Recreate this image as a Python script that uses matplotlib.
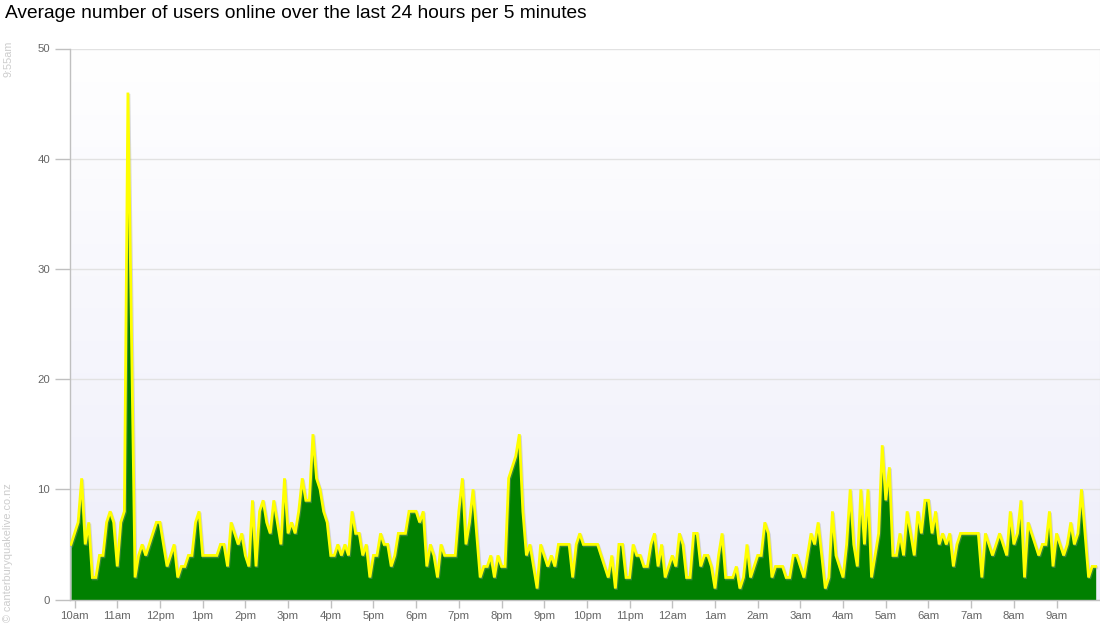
import matplotlib
matplotlib.use("Agg")
import matplotlib.pyplot as plt
import numpy as np
from matplotlib.colors import LinearSegmentedColormap

# ---- data (5-minute averages, 9:55am -> 9:55am) ----
users_online = [
    # 9:55am - 12:45pm
    5, 6, 7, 11, 5, 7, 2, 2, 4, 4, 7, 8, 7, 3, 7, 8, 46, 24, 2, 4,
    5, 4, 5, 6, 7, 7, 5, 3, 4, 5, 2, 3, 3, 4, 4,
    # 12:50pm - 3:45pm
    7, 8, 4, 4, 4, 4, 4, 5, 5, 3, 7, 6, 5, 6, 4, 3, 9, 3, 8, 9,
    7, 6, 9, 7, 5, 11, 6, 7, 6, 8, 11, 9, 9, 15, 11, 10,
    # 3:50pm - 6:50pm
    8, 7, 4, 4, 5, 4, 5, 4, 8, 6, 6, 4, 5, 2, 4, 4, 6, 5, 5, 3,
    4, 6, 6, 6, 8, 8, 8, 7, 8, 3, 5, 4, 2, 5, 4, 4, 4,
    # 6:55pm - 9:55pm
    4, 8, 11, 5, 7, 10, 6, 2, 3, 3, 4, 2, 4, 3, 3, 11, 12, 13, 15, 8,
    4, 5, 3, 1, 5, 4, 3, 4, 3, 5, 5, 5, 5, 2, 5, 6, 5,
    # 10:00pm - 1:00am
    5, 5, 5, 5, 4, 3, 2, 4, 1, 5, 5, 2, 2, 5, 4, 4, 3, 3, 5, 6,
    3, 5, 2, 3, 4, 3, 6, 5, 2, 2, 6, 6, 3, 4, 4, 3, 1,
    # 1:05am - 4:00am
    4, 6, 2, 2, 2, 3, 1, 2, 5, 2, 3, 4, 4, 7, 6, 2, 3, 3, 3, 2,
    2, 4, 4, 3, 2, 4, 6, 5, 7, 4, 1, 2, 8, 4, 3, 2,
    # 4:05am - 7:05am
    5, 10, 5, 3, 10, 5, 10, 2, 4, 6, 14, 9, 12, 4, 4, 6, 4, 8, 6, 4,
    8, 6, 9, 9, 6, 8, 5, 6, 5, 6, 3, 5, 6, 6, 6, 6, 6,
    # 7:10am - 9:55am
    6, 2, 6, 5, 4, 5, 6, 5, 4, 8, 5, 6, 9, 2, 7, 6, 5, 4, 5, 5,
    8, 3, 6, 5, 4, 5, 7, 5, 6, 10, 6, 2, 3, 3,
]
hour_labels = ["10am", "11am", "12pm", "1pm", "2pm", "3pm", "4pm", "5pm", "6pm",
               "7pm", "8pm", "9pm", "10pm", "11pm", "12am", "1am", "2am", "3am",
               "4am", "5am", "6am", "7am", "8am", "9am"]
y_ticks = [0, 10, 20, 30, 40, 50]
title_text = "Average number of users online over the last 24 hours per 5 minutes"
stamp_text = "9:55am"
credit_text = "\u00a9 canterburyquakelive.co.nz"

plt.rcParams['font.family'] = ['Liberation Sans', 'DejaVu Sans']

W, H = 1100, 640
fig = plt.figure(figsize=(W / 100, H / 100), dpi=100)
fig.patch.set_facecolor("white")

# plot area in pixels
px_left, px_right, px_top, px_bottom = 69.5, 1099.5, 48.5, 599.5
ax = fig.add_axes([px_left / W, 1 - px_bottom / H,
                   (px_right - px_left) / W, (px_bottom - px_top) / H])

n = len(users_online)
x = np.arange(n)
step_px = 3.558
x_left = -(71 - px_left) / step_px
x_right = (n - 1) + (px_right - (71 + step_px * (n - 1))) / step_px

# gradient background (white at top -> pale lavender at bottom)
cmap = LinearSegmentedColormap.from_list("bg", ["#ffffff", "#eeeefa"])
grad = np.linspace(0, 1, 256).reshape(-1, 1)
ax.imshow(grad, aspect="auto", cmap=cmap, extent=[x_left, x_right, 0, 50],
          origin="upper", zorder=0, interpolation="bilinear")
ax.set_xlim(x_left, x_right)
ax.set_ylim(0, 50)

# grid lines
for yv in y_ticks:
    ax.axhline(yv, color="#e2e2e2", lw=1, zorder=1)

vals = np.array(users_online, dtype=float)
ax.fill_between(x, 0, vals, color="#008000", lw=0, zorder=2)
# subtle shadow
ax.plot(x + 0.25, vals - 0.12, color="#999999", lw=2.2, alpha=0.35, zorder=3,
        solid_joinstyle="miter")
ax.plot(x, vals, color="#ffff00", lw=2.0, zorder=4, solid_joinstyle="miter")

# axes styling
ax.spines["top"].set_visible(False)
ax.spines["right"].set_color("#e0e0e0")
ax.spines["left"].set_color("#c0c0c0")
ax.spines["bottom"].set_color("#c0c0c0")
ax.spines["left"].set_linewidth(1)
ax.spines["bottom"].set_linewidth(1)

hour_pos = [1 + 12 * k for k in range(len(hour_labels))]
ax.set_xticks(hour_pos)
ax.set_xticklabels(hour_labels)
ax.set_yticks(y_ticks)
ax.set_yticklabels([str(v) for v in y_ticks])
ax.tick_params(axis="x", colors="#c0c0c0", labelcolor="#666666", labelsize=8.2,
               length=6, width=1, pad=2)
ax.tick_params(axis="y", colors="#c0c0c0", labelcolor="#666666", labelsize=8.2,
               length=11, width=1, pad=3)

fig.text(5 / W, 1 - 14 / H, title_text, fontsize=13.8, color="#000000",
         ha="left", va="center")
fig.text(8 / W, 1 - 41 / H, stamp_text, rotation=90, fontsize=7.8,
         color="#cccccc", ha="center", va="top")
fig.text(8 / W, 1 - 622 / H, credit_text, rotation=90, fontsize=7.8,
         color="#cccccc", ha="center", va="bottom")

fig.savefig("out.png", dpi=100)
